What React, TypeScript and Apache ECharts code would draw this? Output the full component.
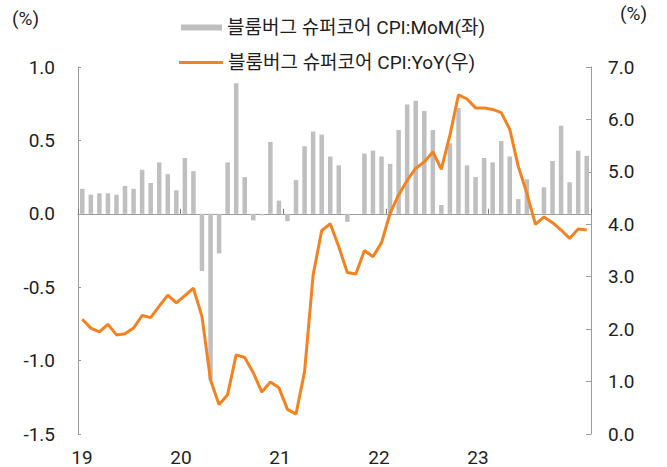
import React, { useEffect, useRef } from "react";
import * as echarts from "echarts";

const momName = "블룸버그 슈퍼코어 CPI:MoM(좌)";
const yoyName = "블룸버그 슈퍼코어 CPI:YoY(우)";

const years = ["2019", "2020", "2021", "2022", "2023"];
const monthNums = ["01", "02", "03", "04", "05", "06", "07", "08", "09", "10", "11", "12"];
const months: string[] = [];
years.forEach((y) => monthNums.forEach((m) => months.push(`${y}-${m}`)));

const yearLabels = ["19", "20", "21", "22", "23"];

const mom2019 = [0.17, 0.13, 0.14, 0.14, 0.13, 0.19, 0.17, 0.30, 0.21, 0.35, 0.27, 0.16];
const mom2020 = [0.38, 0.29, -0.39, -1.13, -0.27, 0.35, 0.89, 0.25, -0.045, -0.01, 0.49, 0.09];
const mom2021 = [-0.05, 0.23, 0.46, 0.56, 0.54, 0.39, 0.33, -0.055, 0.0, 0.41, 0.43, 0.39];
const mom2022 = [0.34, 0.57, 0.745, 0.77, 0.70, 0.57, 0.06, 0.48, 0.72, 0.33, 0.25, 0.38];
const mom2023 = [0.35, 0.495, 0.39, 0.10, 0.235, 0.0, 0.18, 0.36, 0.60, 0.215, 0.43, 0.395];

const yoy2019 = [2.19, 2.02, 1.95, 2.09, 1.89, 1.91, 2.02, 2.26, 2.22, 2.44, 2.65, 2.50];
const yoy2020 = [2.64, 2.78, 2.24, 1.03, 0.56, 0.75, 1.51, 1.46, 1.17, 0.80, 0.99, 0.88];
const yoy2021 = [0.47, 0.38, 1.19, 3.03, 3.88, 4.01, 3.57, 3.08, 3.05, 3.50, 3.38, 3.65];
const yoy2022 = [4.21, 4.56, 4.84, 5.07, 5.19, 5.38, 5.05, 5.70, 6.47, 6.39, 6.22, 6.22];
const yoy2023 = [6.19, 6.13, 5.81, 5.10, 4.59, 4.00, 4.14, 4.03, 3.89, 3.73, 3.91, 3.89];

const mom = [...mom2019, ...mom2020, ...mom2021, ...mom2022, ...mom2023];
const yoy = [...yoy2019, ...yoy2020, ...yoy2021, ...yoy2022, ...yoy2023];

const TEXT = "#1e1e1e";
const AXIS = "#9c9c9c";
const FONT = "Roboto, 'Noto Sans CJK KR', sans-serif";

export default function App() {
  const ref = useRef<HTMLDivElement>(null);
  useEffect(() => {
    if (!ref.current) return;
    const chart = echarts.init(ref.current, undefined, { renderer: "svg" });
    const labelStyle = { fontSize: 19, color: TEXT, fontFamily: FONT };
    chart.setOption({
      animation: false,
      textStyle: { fontFamily: FONT },
      grid: [
        { left: 78, right: 76, top: 67, bottom: 33 },
        { left: 82, width: 495, top: 67, bottom: 33 },
      ],
      legend: [
        {
          data: [{ name: momName, icon: "rect" }],
          left: 176,
          top: 13,
          itemWidth: 41,
          itemHeight: 6,
          textStyle: { fontSize: 19, color: TEXT, fontFamily: FONT },
          selectedMode: false,
        },
        {
          data: [{ name: yoyName, icon: "rect" }],
          left: 174,
          top: 48,
          itemWidth: 44,
          itemHeight: 3,
          textStyle: { fontSize: 19, color: TEXT, fontFamily: FONT },
          selectedMode: false,
        },
      ],
      graphic: [
        { type: "text", left: 12, top: 9, style: { text: "(%)", fontSize: 19, fill: TEXT, fontFamily: FONT } },
        { type: "text", left: 620, top: 4, style: { text: "(%)", fontSize: 19, fill: TEXT, fontFamily: FONT } },
      ],
      xAxis: [
        {
          type: "category",
          gridIndex: 0,
          data: months,
          boundaryGap: true,
          axisLine: { show: true, onZero: true, onZeroAxisIndex: 0, lineStyle: { color: AXIS, width: 1 } },
          axisTick: { show: true, inside: true, length: 5, interval: 11, lineStyle: { color: "#7a7a7a" } },
          axisLabel: { show: false },
          splitLine: { show: false },
        },
        {
          type: "value",
          gridIndex: 1,
          min: 0,
          max: 60,
          interval: 12,
          position: "bottom",
          axisLine: { show: false },
          axisTick: { show: false },
          splitLine: { show: false },
          axisLabel: {
            ...labelStyle,
            lineHeight: 18,
            margin: 14,
            formatter: (v: number) => yearLabels[Math.round(v / 12)] ?? "",
          },
        },
      ],
      yAxis: [
        {
          type: "value",
          gridIndex: 0,
          position: "left",
          min: -1.5,
          max: 1.0,
          interval: 0.5,
          axisLine: { show: true, lineStyle: { color: AXIS } },
          axisTick: { show: true, inside: true, length: 3, lineStyle: { color: AXIS } },
          splitLine: { show: false },
          axisLabel: { ...labelStyle, margin: 23, formatter: (v: number) => v.toFixed(1) },
        },
        {
          type: "value",
          gridIndex: 0,
          position: "right",
          min: 0,
          max: 7,
          interval: 1,
          axisLine: { show: true, lineStyle: { color: AXIS } },
          axisTick: { show: true, inside: true, length: 5, lineStyle: { color: AXIS } },
          splitLine: { show: false },
          axisLabel: { ...labelStyle, margin: 17, formatter: (v: number) => v.toFixed(1) },
        },
        { type: "value", gridIndex: 1, show: false },
      ],
      series: [
        {
          name: momName,
          type: "bar",
          xAxisIndex: 0,
          yAxisIndex: 0,
          data: mom,
          barWidth: 4.5,
          itemStyle: { color: "#bfbfbf" },
        },
        {
          name: yoyName,
          type: "line",
          xAxisIndex: 0,
          yAxisIndex: 1,
          data: yoy,
          symbol: "none",
          lineStyle: { color: "#f5821f", width: 3 },
          itemStyle: { color: "#f5821f" },
          z: 3,
        },
      ],
    });
    return () => chart.dispose();
  }, []);
  return (
    <div
      ref={ref}
      style={{ position: "fixed", left: 0, top: 0, width: 667, height: 467, background: "#fff" }}
    />
  );
}
